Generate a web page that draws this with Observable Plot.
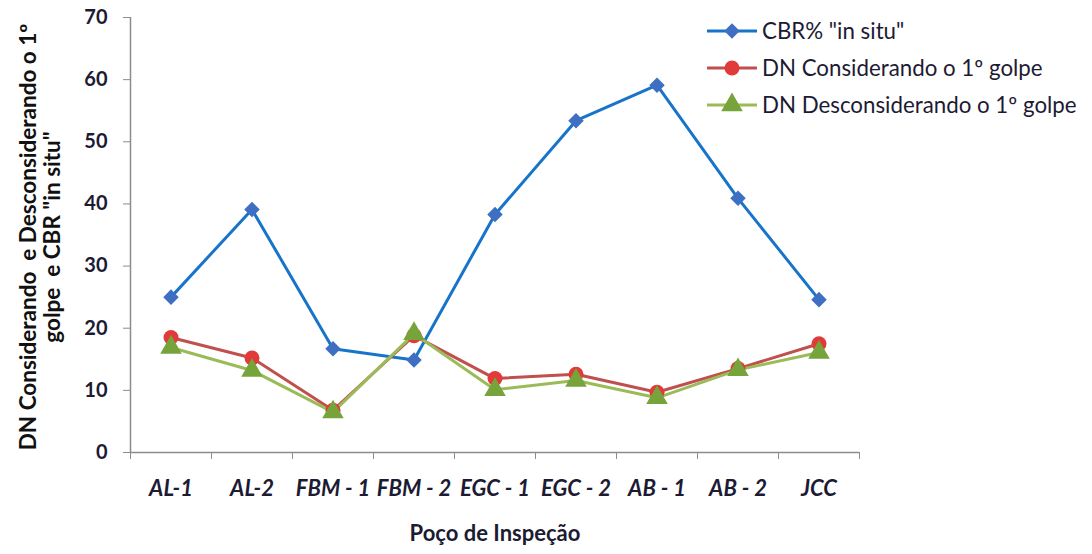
<!DOCTYPE html>
<html>
<head>
<meta charset="utf-8">
<script src="https://cdn.jsdelivr.net/npm/d3@7"></script>
<script src="https://cdn.jsdelivr.net/npm/@observablehq/plot@0.6"></script>
<style>
  html, body { margin: 0; padding: 0; background: #fff; }
  #wrap { position: relative; width: 1092px; height: 554px; font-family: Lato, "Open Sans", sans-serif; }
  #legend { position: absolute; left: 707px; top: 12px; color: #1d1b33; font-size: 22.3px; }
  #legend .row { display: flex; align-items: center; height: 37px; }
  #legend svg { margin-right: 5px; overflow: visible; }
</style>
</head>
<body>
<div id="wrap"></div>
<script>
const categories = ["AL-1", "AL-2", "FBM - 1", "FBM - 2", "EGC - 1", "EGC - 2", "AB - 1", "AB - 2", "JCC"];
const cbrInSitu = [25.0, 39.1, 16.7, 14.9, 38.3, 53.4, 59.1, 40.9, 24.6];
const dnConsiderando = [18.5, 15.2, 6.8, 18.8, 11.9, 12.6, 9.7, 13.5, 17.5];
const dnDesconsiderando = [16.9, 13.2, 6.5, 19.1, 10.1, 11.6, 8.8, 13.3, 16.1];
const seriesNames = ['CBR% "in situ"', "DN Considerando o 1º golpe", "DN Desconsiderando o 1º golpe"];
const yTicks = [0, 10, 20, 30, 40, 50, 60, 70];
const xTitle = "Poço de Inspeção";
const yTitle = "DN Considerando  e Desconsiderando o 1º\ngolpe  e CBR \"in situ\"";

const lineColors = ["#1874c9", "#c0504d", "#9bbb59"];
const markFills = ["#3f6fc2", "#e03a3a", "#77a33b"];
const symbols = ["diamond2", "circle", "triangle"];
const radii = [7, 7.5, 8];

const allSeries = [cbrInSitu, dnConsiderando, dnDesconsiderando];
const rows = allSeries.flatMap((vals, s) => vals.map((v, i) => ({s, i, v, name: seriesNames[s]})));

const txt = "#1d1b33";
const marks = [];
allSeries.forEach((vals, s) => {
  const d = rows.filter(r => r.s === s);
  marks.push(Plot.line(d, {x: "i", y: "v", stroke: lineColors[s], strokeWidth: 3}));
});
allSeries.forEach((vals, s) => {
  const d = rows.filter(r => r.s === s);
  marks.push(Plot.dot(d, {x: "i", y: "v", symbol: () => symbols[s], r: radii[s], fill: markFills[s], stroke: "none",
    style: "filter: drop-shadow(1px 3px 2px rgba(0,0,0,0.35))"}));
});

const chart = Plot.plot({
  width: 1092,
  height: 554,
  marginLeft: 130,
  marginRight: 233,
  marginTop: 17,
  marginBottom: 102,
  style: {fontFamily: "Lato, 'Open Sans', sans-serif", color: txt, background: "#fff", overflow: "visible"},
  x: {type: "linear", domain: [-0.5, categories.length - 0.5]},
  y: {domain: [0, 70]},
  symbol: {type: "identity"},
  marks: [
    Plot.ruleY([0], {stroke: "#8c8c8c", strokeWidth: 1.5}),
    Plot.ruleX([-0.5], {stroke: "#8c8c8c", strokeWidth: 1.5}),
    Plot.axisY({ticks: yTicks, tickSize: 7, tickPadding: 16, stroke: "#8c8c8c", fontSize: 20, fontWeight: "bold", fill: txt, label: null, tickFormat: d => d}),
    Plot.axisX({ticks: d3.range(-0.5, categories.length, 1), tickSize: 7, stroke: "#8c8c8c", tickFormat: () => "", label: null}),
    Plot.axisX({ticks: d3.range(categories.length), tickSize: 0, tickPadding: 28, tickFormat: i => categories[i], fontSize: 22, fontWeight: "bold", fontStyle: "italic", fill: txt, label: null}),
    Plot.text([xTitle], {frameAnchor: "bottom", dy: 88, fontSize: 22, fontWeight: "bold", fill: txt}),
    Plot.text([yTitle], {frameAnchor: "left", textAnchor: "middle", dx: -90, dy: 2, rotate: -90, fontSize: 22.5, fontWeight: "bold", lineHeight: 1.08, fill: "#111"}),
    ...marks
  ]
});
document.getElementById("wrap").appendChild(chart);

// legend
const legend = document.createElement("div");
legend.id = "legend";
seriesNames.forEach((name, s) => {
  const row = document.createElement("div");
  row.className = "row";
  const sw = d3.create("svg").attr("width", 50).attr("height", 20);
  sw.append("line").attr("x1", 0).attr("x2", 50).attr("y1", 10).attr("y2", 10).attr("stroke", lineColors[s]).attr("stroke-width", 3);
  const sym = d3.symbol().type({diamond2: d3.symbolDiamond2, circle: d3.symbolCircle, triangle: d3.symbolTriangle}[symbols[s]]).size(Math.PI * radii[s] * radii[s]);
  sw.append("path").attr("d", sym()).attr("transform", "translate(25,10)").attr("fill", markFills[s]);
  row.appendChild(sw.node());
  const t = document.createElement("span");
  t.textContent = name;
  row.appendChild(t);
  legend.appendChild(row);
});
document.getElementById("wrap").appendChild(legend);
</script>
</body>
</html>
